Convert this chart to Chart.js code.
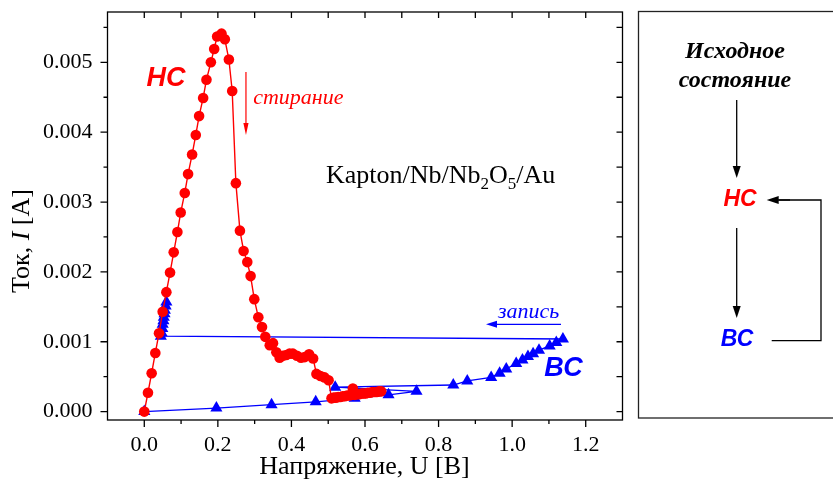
<!DOCTYPE html>
<html><head><meta charset="utf-8">
<script src="https://cdn.jsdelivr.net/npm/chart.js@4.4.0/dist/chart.umd.min.js"></script>
<style>html,body{margin:0;padding:0;background:#fff;overflow:hidden}canvas{display:block}</style>
</head><body>
<canvas id="c" width="833" height="488"></canvas>
<script>
// ---- data ----
const redV = [0, 0.010, 0.020, 0.030, 0.040, 0.050, 0.060, 0.070, 0.080, 0.090, 0.099, 0.110, 0.119, 0.130, 0.140, 0.149, 0.160, 0.169, 0.181, 0.190, 0.198, 0.210, 0.219, 0.230, 0.239, 0.249, 0.260, 0.270, 0.280, 0.289, 0.299, 0.310, 0.320, 0.329, 0.341, 0.350, 0.359, 0.368, 0.377, 0.386, 0.395, 0.404, 0.415, 0.426, 0.436, 0.448, 0.459, 0.468, 0.479, 0.490, 0.501, 0.509, 0.515, 0.521, 0.527, 0.533, 0.539, 0.545, 0.551, 0.557, 0.563, 0.567, 0.572, 0.578, 0.584, 0.590, 0.596, 0.602, 0.608, 0.614, 0.620, 0.626, 0.632, 0.638, 0.644];
const redI = [0, 0.00027, 0.00055, 0.00084, 0.00112, 0.00143, 0.00171, 0.00199, 0.00228, 0.00257, 0.00285, 0.00313, 0.00340, 0.00368, 0.00396, 0.00423, 0.00449, 0.00475, 0.00500, 0.00519, 0.00537, 0.00541, 0.00533, 0.00504, 0.00459, 0.00327, 0.00259, 0.00230, 0.00214, 0.00194, 0.00161, 0.00135, 0.00121, 0.00107, 0.00095, 0.00098, 0.00085, 0.00077, 0.00080, 0.00081, 0.00083, 0.00083, 0.00080, 0.00077, 0.00078, 0.00082, 0.00076, 0.00054, 0.00051, 0.00049, 0.00045, 0.00019, 0.00020, 0.00020, 0.00021, 0.00021, 0.00022, 0.00022, 0.00023, 0.00023, 0.00024, 0.00033, 0.00024, 0.00025, 0.00025, 0.00026, 0.00026, 0.00026, 0.00027, 0.00027, 0.00028, 0.00028, 0.00028, 0.00029, 0.00029];
const blueV = [0, 0.196, 0.346, 0.466, 0.572, 0.664, 0.740, 0.519, 0.840, 0.878, 0.943, 0.966, 0.984, 1.011, 1.028, 1.043, 1.057, 1.073, 1.102, 1.120, 1.138, 0.045, 0.047, 0.049, 0.050, 0.052, 0.053, 0.055, 0.056, 0.058, 0.060];
const blueI = [0, 0.00005, 0.00010, 0.00014, 0.00019, 0.00024, 0.00029, 0.00035, 0.00038, 0.00044, 0.00049, 0.00055, 0.00061, 0.00069, 0.00074, 0.00079, 0.00083, 0.00088, 0.00094, 0.00099, 0.00104, 0.00108, 0.00113, 0.00119, 0.00125, 0.00130, 0.00135, 0.00140, 0.00145, 0.00151, 0.00157];
const xTicks = [0, 0.2, 0.4, 0.6, 0.8, 1.0, 1.2];
const xTickLabels = ['0.0', '0.2', '0.4', '0.6', '0.8', '1.0', '1.2'];
const xMinorTicks = [0.1, 0.3, 0.5, 0.7, 0.9, 1.1];
const yTicks = [0, 0.001, 0.002, 0.003, 0.004, 0.005];
const yTickLabels = ['0.000', '0.001', '0.002', '0.003', '0.004', '0.005'];
const yMinorTicks = [0.0005, 0.0015, 0.0025, 0.0035, 0.0045, 0.0055];
const xTitle = 'Напряжение, U [B]';
const yTitleParts = ['Ток, ', 'I', ' [A]'];
const sampleParts = [['Kapton/Nb/Nb', false], ['2', true], ['O', false], ['5', true], ['/Au', false]];

const SERIF = '"Liberation Serif", "Times New Roman", serif';
const SANS = '"Liberation Sans", Arial, sans-serif';
const RED = '#ff0000';
const BLUE = '#0000ff';

function pts(vs, is) { return vs.map((v, k) => ({ x: v, y: is[k] })); }

function arrow(ctx, x1, y1, x2, y2, color, hl, hw, lw) {
  const a = Math.atan2(y2 - y1, x2 - x1);
  const bx = x2 - hl * Math.cos(a), by = y2 - hl * Math.sin(a);
  ctx.save();
  ctx.strokeStyle = color; ctx.fillStyle = color; ctx.lineWidth = lw;
  ctx.beginPath(); ctx.moveTo(x1, y1); ctx.lineTo(bx, by); ctx.stroke();
  ctx.beginPath();
  ctx.moveTo(x2, y2);
  ctx.lineTo(bx + hw * Math.sin(a), by - hw * Math.cos(a));
  ctx.lineTo(bx - hw * Math.sin(a), by + hw * Math.cos(a));
  ctx.closePath(); ctx.fill();
  ctx.restore();
}
function text(ctx, s, x, y, font, color, align) {
  ctx.save();
  ctx.font = font; ctx.fillStyle = color; ctx.textAlign = align || 'center'; ctx.textBaseline = 'middle';
  ctx.fillText(s, x, y);
  ctx.restore();
}

const decor = {
  id: 'decor',
  afterDraw(chart) {
    const ctx = chart.ctx, sx = chart.scales.x, sy = chart.scales.y, ca = chart.chartArea;
    const X = v => sx.getPixelForValue(v), Y = v => sy.getPixelForValue(v);
    ctx.save();
    ctx.strokeStyle = '#000'; ctx.lineWidth = 1.3;
    ctx.strokeRect(ca.left, ca.top, ca.right - ca.left, ca.bottom - ca.top);
    ctx.beginPath();
    xTicks.forEach(v => { const p = X(v); ctx.moveTo(p, ca.bottom); ctx.lineTo(p, ca.bottom + 7); ctx.moveTo(p, ca.top); ctx.lineTo(p, ca.top + 6); });
    xMinorTicks.forEach(v => { const p = X(v); ctx.moveTo(p, ca.bottom); ctx.lineTo(p, ca.bottom + 4); ctx.moveTo(p, ca.top); ctx.lineTo(p, ca.top + 6); });
    yTicks.forEach(v => { const p = Y(v); ctx.moveTo(ca.left, p); ctx.lineTo(ca.left - 7, p); ctx.moveTo(ca.right, p); ctx.lineTo(ca.right - 6, p); });
    yMinorTicks.forEach(v => { const p = Y(v); ctx.moveTo(ca.left, p); ctx.lineTo(ca.left - 4, p); ctx.moveTo(ca.right, p); ctx.lineTo(ca.right - 6, p); });
    ctx.stroke();
    ctx.restore();

    // axis titles
    text(ctx, xTitle, (ca.left + ca.right) / 2 - 0.5, 467, '26px ' + SERIF, '#000');
    ctx.save();
    ctx.translate(22, 241); ctx.rotate(-Math.PI / 2);
    ctx.textBaseline = 'middle'; ctx.fillStyle = '#000';
    const fonts = ['26px ' + SERIF, 'italic 26px ' + SERIF, '26px ' + SERIF];
    let tw = 0; yTitleParts.forEach((s, k) => { ctx.font = fonts[k]; tw += ctx.measureText(s).width; });
    let cx = -tw / 2; ctx.textAlign = 'left';
    yTitleParts.forEach((s, k) => { ctx.font = fonts[k]; ctx.fillText(s, cx, 0); cx += ctx.measureText(s).width; });
    ctx.restore();

    // plot annotations (data coordinates)
    text(ctx, 'НС', X(0.059), Y(0.00477), 'italic bold 27px ' + SANS, RED);
    text(ctx, 'стирание', X(0.296), Y(0.00449), 'italic 22px ' + SERIF, RED, 'left');
    arrow(ctx, X(0.2764), Y(0.00486), X(0.2764), Y(0.00396), RED, 12, 2.6, 1.2);
    ctx.save();
    ctx.fillStyle = '#000'; ctx.textBaseline = 'alphabetic'; ctx.textAlign = 'left';
    let px = X(0.494); const by = Y(0.003387) + 8;
    sampleParts.forEach(([s, sub]) => {
      ctx.font = (sub ? '17px ' : '26px ') + SERIF;
      ctx.fillText(s, px, sub ? by + 6 : by);
      px += ctx.measureText(s).width;
    });
    ctx.restore();
    text(ctx, 'запись', X(0.9613), Y(0.001426), 'italic 22px ' + SERIF, BLUE, 'left');
    arrow(ctx, X(1.1328), Y(0.00125), X(0.9289), Y(0.00125), BLUE, 11, 3.5, 1.2);
    text(ctx, 'ВС', X(1.1396), Y(0.00061), 'italic bold 27px ' + SANS, BLUE);

    // right-hand state diagram
    ctx.save();
    ctx.strokeStyle = '#222'; ctx.lineWidth = 1.3;
    ctx.strokeRect(638.5, 11.5, chart.width, 406.5);
    ctx.restore();
    text(ctx, 'Исходное', 735, 52, 'italic bold 24px ' + SERIF, '#000');
    text(ctx, 'состояние', 735, 81, 'italic bold 24px ' + SERIF, '#000');
    arrow(ctx, 736.7, 100, 736.7, 178, '#000', 12, 4, 1.3);
    text(ctx, 'НС', 740, 200, 'italic bold 23px ' + SANS, RED);
    arrow(ctx, 736.7, 228, 736.7, 318, '#000', 12, 4, 1.3);
    text(ctx, 'ВС', 737, 340, 'italic bold 23px ' + SANS, BLUE);
    ctx.save();
    ctx.strokeStyle = '#000'; ctx.lineWidth = 1.3;
    ctx.beginPath(); ctx.moveTo(771.7, 340.7); ctx.lineTo(821, 340.7); ctx.lineTo(821, 200); ctx.lineTo(778, 200); ctx.stroke();
    ctx.restore();
    arrow(ctx, 790, 200, 766.7, 200, '#000', 12, 4, 1.3);
  }
};

new Chart(document.getElementById('c'), {
  type: 'scatter',
  data: {
    datasets: [
      { label: 'НС', data: pts(redV, redI), showLine: true, borderColor: RED, backgroundColor: RED,
        borderWidth: 1.4, pointRadius: 5.3, pointBorderWidth: 0, pointBackgroundColor: RED, order: 1 },
      { label: 'ВС', data: pts(blueV, blueI), showLine: true, borderColor: BLUE, backgroundColor: BLUE,
        borderWidth: 1.4, pointStyle: 'triangle', pointRadius: 7, pointBorderWidth: 0, pointBackgroundColor: BLUE, order: 2 }
    ]
  },
  options: {
    responsive: false, animation: false, devicePixelRatio: 1,
    layout: { padding: { left: 0, top: 12, right: 210.5, bottom: 0 } },
    plugins: { legend: { display: false }, tooltip: { enabled: false } },
    scales: {
      x: {
        type: 'linear', min: -0.1, max: 1.3,
        afterBuildTicks: s => { s.ticks = xTicks.map(v => ({ value: v })); },
        afterFit: s => { s.height = 68; s.paddingLeft = 0; s.paddingRight = 0; },
        grid: { display: false, drawTicks: false, tickLength: 0 },
        border: { display: false },
        ticks: { autoSkip: false, maxRotation: 0, padding: 12, color: '#000',
          font: { family: SERIF, size: 22 }, callback: (v, k) => xTickLabels[k] }
      },
      y: {
        type: 'linear', min: -0.00012, max: 0.00572,
        afterBuildTicks: s => { s.ticks = yTicks.map(v => ({ value: v })); },
        afterFit: s => { s.width = 107.5; s.paddingTop = 0; s.paddingBottom = 0; },
        grid: { display: false, drawTicks: false, tickLength: 0 },
        border: { display: false },
        ticks: { autoSkip: false, padding: 15, color: '#000',
          font: { family: SERIF, size: 22 }, callback: (v, k) => yTickLabels[k] }
      }
    }
  },
  plugins: [decor]
});
</script>
</body></html>
